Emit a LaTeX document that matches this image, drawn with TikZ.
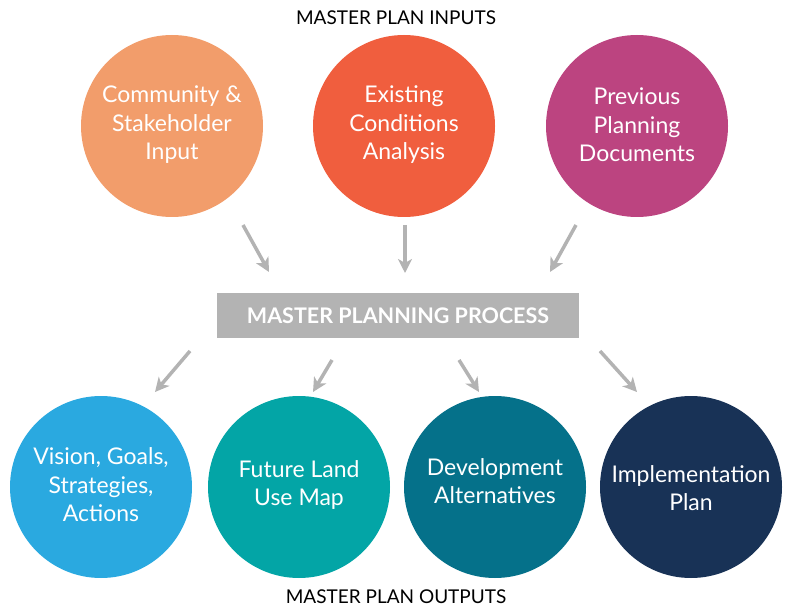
\documentclass[tikz,border=0pt]{standalone}
\usepackage{fontspec}
\setmainfont{Lato}
\usetikzlibrary{arrows.meta}
\definecolor{cA}{HTML}{F29D6B}
\definecolor{cB}{HTML}{F05E3E}
\definecolor{cC}{HTML}{BC4480}
\definecolor{cD}{HTML}{2AA9E0}
\definecolor{cE}{HTML}{03A5A6}
\definecolor{cF}{HTML}{05718A}
\definecolor{cG}{HTML}{183256}
\definecolor{arr}{HTML}{B3B3B3}
\tikzset{
  bubble/.style={circle, minimum size=182pt, inner sep=0pt},
  bubtext/.style={text=white, align=center, inner sep=0pt,
    font=\fontsize{23}{28.5}\selectfont},
  heading/.style={font=\fontsize{19}{22}\selectfont, text=black},
  flow/.style={draw=arr, line width=3.5pt, -{Stealth[length=14pt,width=14pt,inset=4pt]}},
}
\begin{document}
\begin{tikzpicture}[x=1pt,y=-1pt]
\useasboundingbox (0,0) rectangle (792,612);
\node[heading] (tin) at (396,18) {MASTER PLAN INPUTS};
\node[heading] (tout) at (396,597) {MASTER PLAN OUTPUTS};
\node[bubble, fill=cA] (c1) at (172,126) {};
\node[bubble, fill=cB] (c2) at (404,126) {};
\node[bubble, fill=cC] (c3) at (637,126) {};
\node[bubtext] (t1) at (172,125) {Community \&\\Stakeholder\\Input};
\node[bubtext] (t2) at (404,125) {Existing\\Conditions\\Analysis};
\node[bubtext] (t3) at (637,125) {Previous\\Planning\\Documents};
\node[fill=arr, minimum width=362pt, minimum height=45pt, inner sep=0pt, text=white,
  font=\fontsize{21.5}{24}\selectfont\bfseries] (proc) at (398,315.5) {MASTER PLANNING PROCESS};
\node[bubble, fill=cD] (o1) at (101,487) {};
\node[bubble, fill=cE] (o2) at (299,487) {};
\node[bubble, fill=cF] (o3) at (495,487) {};
\node[bubble, fill=cG] (o4) at (691,487) {};
\node[bubtext] (u1) at (101,485) {Vision, Goals,\\Strategies,\\Actions};
\node[bubtext] (u2) at (299,485) {Future Land\\Use Map};
\node[bubtext] (u3) at (495,481) {Development\\Alternatives};
\node[bubtext] (u4) at (691,488) {Implementation\\Plan};
\coordinate (a1s) at (243,225); \coordinate (a1e) at (269,272);
\coordinate (a2s) at (405,225); \coordinate (a2e) at (405,273);
\coordinate (a3s) at (576,225); \coordinate (a3e) at (550,272);
\coordinate (b1s) at (190,351); \coordinate (b1e) at (155,392);
\coordinate (b2s) at (332,360); \coordinate (b2e) at (313,392);
\coordinate (b3s) at (459,360); \coordinate (b3e) at (479,392);
\coordinate (b4s) at (600,351); \coordinate (b4e) at (637,392);
\foreach \s/\e in {a1s/a1e,a2s/a2e,a3s/a3e,b1s/b1e,b2s/b2e,b3s/b3e,b4s/b4e}
  \draw[flow] (\s) -- (\e);
\end{tikzpicture}
\end{document}
